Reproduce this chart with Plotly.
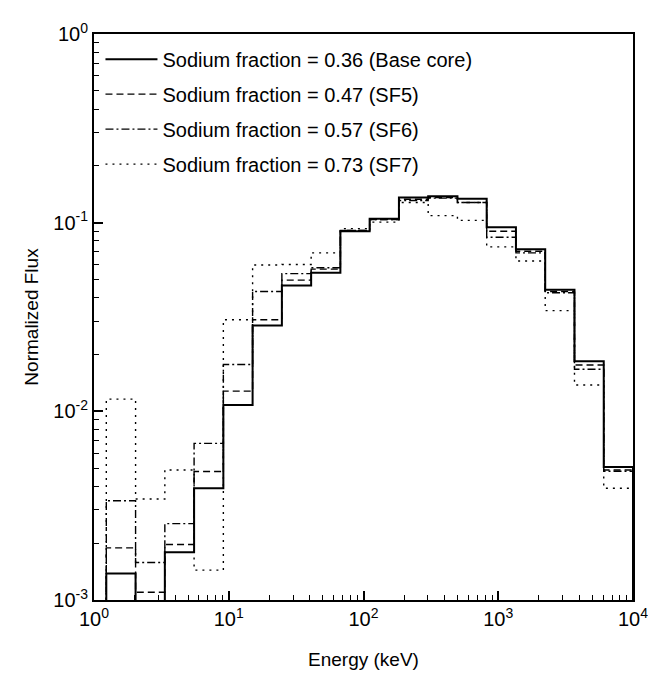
import plotly.graph_objects as go

# Energy group boundaries (keV), lethargy-width groups
edges = [1.234, 2.035, 3.355, 5.531, 9.119, 15.03, 24.79, 40.87, 67.38,
         111.1, 183.2, 302.0, 497.9, 820.8, 1353.0, 2231.0, 3679.0, 6065.0, 10000.0]

labels = ["Sodium fraction = 0.36 (Base core)",
          "Sodium fraction = 0.47 (SF5)",
          "Sodium fraction = 0.57 (SF6)",
          "Sodium fraction = 0.73 (SF7)"]

flux_base = [1.38e-3, 5.0e-4, 1.79e-3, 3.91e-3, 0.0108, 0.0285, 0.0464, 0.0543, 0.090,
             0.105, 0.136, 0.138, 0.134, 0.0945, 0.0722, 0.0441, 0.01845, 5.07e-3]
flux_sf5 = [1.89e-3, 1.10e-3, 1.97e-3, 4.80e-3, 0.0128, 0.0306, 0.0496, 0.0567, 0.091,
            0.104, 0.133, 0.136, 0.128, 0.090, 0.0705, 0.0432, 0.0176, 4.89e-3]
flux_sf6 = [3.36e-3, 1.58e-3, 2.54e-3, 6.76e-3, 0.0177, 0.0432, 0.0537, 0.0577, 0.091,
            0.104, 0.131, 0.135, 0.128, 0.0837, 0.0692, 0.0425, 0.0167, 4.81e-3]
flux_sf7 = [0.0116, 3.43e-3, 4.89e-3, 1.44e-3, 0.0306, 0.0597, 0.0600, 0.0692, 0.093,
            0.1007, 0.128, 0.109, 0.1028, 0.0744, 0.0626, 0.0342, 0.0138, 3.91e-3]

x_tickvals = [1, 10, 100, 1000, 10000]
x_ticktext = ["10<sup>0</sup>", "10<sup>1</sup>", "10<sup>2</sup>", "10<sup>3</sup>", "10<sup>4</sup>"]
y_tickvals = [0.001, 0.01, 0.1, 1]
y_ticktext = ["10<sup>-3</sup>", "10<sup>-2</sup>", "10<sup>-1</sup>", "10<sup>0</sup>"]

series = [flux_base, flux_sf5, flux_sf6, flux_sf7]
styles = [("solid", 2.0), ("7px,4px", 1.4), ("8px,3px,2px,3px", 1.4), ("2px,5px", 1.4)]

FLOOR = 1e-6
fig = go.Figure()
for i, (vals, lab, (dash, w)) in enumerate(zip(series, labels, styles)):
    xs = [edges[0]] + list(edges) + [edges[-1]]
    ys = [FLOOR] + list(vals) + [vals[-1], FLOOR]
    fig.add_trace(go.Scatter(
        x=xs, y=ys, mode="lines", name=lab, legendgroup=f"g{i}",
        line=dict(color="black", width=w, dash=dash, shape="hv"),
    ))

minor_x = [m * 10 ** d for d in range(0, 4) for m in range(2, 10)]
minor_y = [m * 10.0 ** d for d in range(-3, 0) for m in range(2, 10)]

axis_common = dict(
    type="log", showline=True, linecolor="black", linewidth=2, mirror=True,
    ticks="inside", ticklen=9, tickwidth=1.5, tickcolor="black",
    showgrid=False, zeroline=False,
    tickfont=dict(family="Liberation Sans, Arial", size=20, color="black"),
)

fig.update_layout(
    width=656, height=677,
    margin=dict(l=86, r=31, t=21, b=85),
    paper_bgcolor="white", plot_bgcolor="white",
    font=dict(family="Liberation Sans, Arial", color="black"),
    showlegend=True,
    legend=dict(
        x=0.012, y=0.99, xanchor="left", yanchor="top",
        bgcolor="rgba(0,0,0,0)", borderwidth=0,
        font=dict(family="Liberation Sans, Arial", size=20, color="black"),
        itemwidth=52, traceorder="grouped", tracegroupgap=6,
    ),
    xaxis=dict(
        **axis_common, range=[0, 4],
        tickvals=x_tickvals, ticktext=x_ticktext,
        minor=dict(tickvals=minor_x, ticks="inside", ticklen=5, tickwidth=1.2, tickcolor="black"),
        title=dict(text="Energy (keV)", font=dict(size=19), standoff=24),
    ),
    yaxis=dict(
        **axis_common, range=[-3, 0],
        tickvals=y_tickvals, ticktext=y_ticktext,
        minor=dict(tickvals=minor_y, ticks="inside", ticklen=5, tickwidth=1.2, tickcolor="black"),
        title=dict(text="Normalized Flux", font=dict(size=19), standoff=10),
    ),
)

fig.write_html("out.html")
